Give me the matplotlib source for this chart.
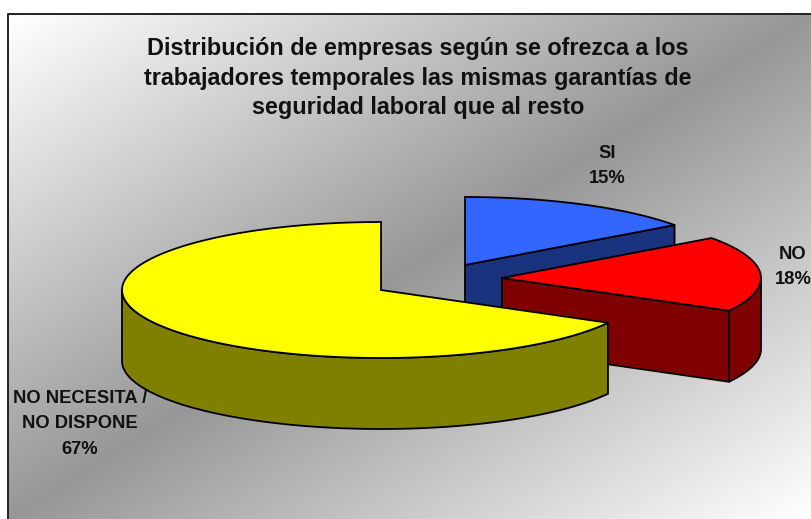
import numpy as np
import matplotlib
matplotlib.use("Agg")
import matplotlib.pyplot as plt
from matplotlib.patches import Polygon

labels = ["SI", "NO", "NO NECESITA /\nNO DISPONE"]
shares = [15, 18, 67]
top_colors = ["#3366FF", "#FF0000", "#FFFF00"]
side_colors = ["#19337F", "#7F0000", "#7F7F00"]
apex = [(465, 265), (502, 278), (381, 290)]
label_pos = [(607, 166), (793, 267), (80, 424)]

title = ("Distribución de empresas según se ofrezca a los\n"
         "trabajadores temporales las mismas garantías de\n"
         "seguridad laboral que al resto")

RX, RY, DEPTH = 259, 68, 71

W, H = 811, 519
fig = plt.figure(figsize=(W / 100, H / 100), dpi=100)
ax = fig.add_axes([0, 0, 1, 1])

# background: white corners, grey along the other diagonal
yy, xx = np.mgrid[14:H, 8:W]
d = ((xx - 8) / (W - 8) + (yy - 14) / (H - 14)) / 2
grey = 1.0 - 0.41 * (1 - np.abs(d - 0.5) * 2)
ax.imshow(grey, cmap="gray", vmin=0, vmax=1, extent=(8, W, H, 14), aspect="auto", zorder=0)
ax.set_xlim(0, W)
ax.set_ylim(H, 0)
ax.axis("off")
ax.plot([8, 8, W], [H, 14, 14], color="#222222", lw=1.4, zorder=1)


def rim(cx, cy, a0, a1):
    t = np.radians(np.linspace(a0, a1, 120))
    return cx + RX * np.sin(t), cy - RY * np.cos(t)


def wedge(i, a0, a1):
    cx, cy = apex[i]
    x, y = rim(cx, cy, a0, a1)
    z = 3 + i
    # outer wall, only the part facing the viewer
    b0, b1 = max(a0, 90), min(a1, 270)
    if b1 > b0:
        xo, yo = rim(cx, cy, b0, b1)
        pts = np.r_[np.c_[xo, yo], np.c_[xo, yo + DEPTH][::-1]]
        ax.add_patch(Polygon(pts, fc=side_colors[i], ec="black", lw=1.3, zorder=z))
    # cut face at the end of the slice, seen only in the right half
    if a1 < 180:
        xe, ye = rim(cx, cy, a1, a1)
        face = [(cx, cy), (xe[0], ye[0]), (xe[0], ye[0] + DEPTH), (cx, cy + DEPTH)]
        ax.add_patch(Polygon(face, fc=side_colors[i], ec="black", lw=1.3, zorder=z))
    pts = np.r_[[(cx, cy)], np.c_[x, y]]
    ax.add_patch(Polygon(pts, fc=top_colors[i], ec="black", lw=1.3, zorder=z + 0.5))


angle = 0
for i, s in enumerate(shares):
    sweep = s * 3.6
    wedge(i, angle, angle + sweep)
    angle += sweep

for lab, s, (x, y) in zip(labels, shares, label_pos):
    ax.text(x, y, f"{lab}\n{s}%", ha="center", va="center", fontsize=13.2,
            fontweight="bold", family="Liberation Sans", linespacing=1.68,
            color="#111111", zorder=12, clip_on=False)

ax.text(418, 78, title, ha="center", va="center", fontsize=16.8, fontweight="bold",
        family="Liberation Sans", linespacing=1.36, color="#111111", zorder=12)

fig.savefig("out.png", dpi=100)
